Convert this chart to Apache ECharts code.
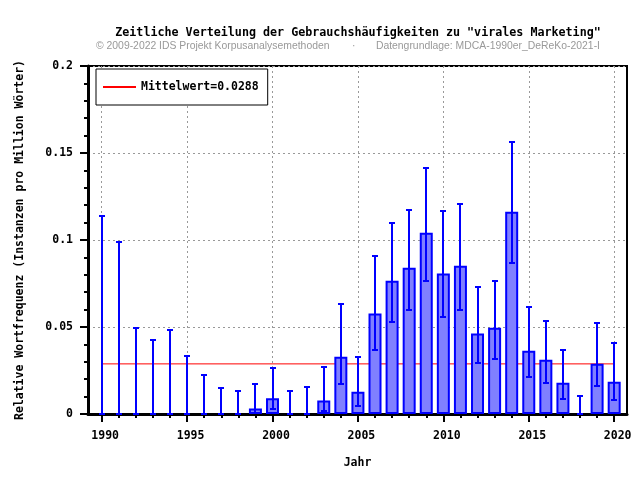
<!DOCTYPE html>
<html>
<head>
<meta charset="utf-8">
<script src="https://cdn.jsdelivr.net/npm/echarts@6/dist/echarts.min.js"></script>
<style>html,body{margin:0;padding:0;background:#fff}#c{width:640px;height:480px}</style>
</head>
<body>
<div id="c"></div>
<script>
const years = [1990,1991,1992,1993,1994,1995,1996,1997,1998,1999,2000,2001,2002,2003,2004,2005,2006,2007,2008,2009,2010,2011,2012,2013,2014,2015,2016,2017,2018,2019,2020];
const values = [0,0,0,0,0,0,0,0,0,0.0031,0.009,0,0,0.0077,0.0329,0.0128,0.0577,0.0766,0.0841,0.1042,0.0807,0.0852,0.0462,0.0496,0.1163,0.0364,0.0312,0.018,0,0.0289,0.0186];
const lower = [0,0,0,0,0,0,0,0,0,0.0004,0.003,0,0,0.0017,0.0172,0.0046,0.037,0.0529,0.0598,0.0764,0.0557,0.0598,0.0295,0.0316,0.087,0.0213,0.018,0.0088,0,0.0163,0.0082];
const upper = [0.114,0.099,0.0496,0.0427,0.0481,0.0335,0.0226,0.0151,0.0134,0.0174,0.0266,0.0132,0.0157,0.0272,0.0634,0.0329,0.091,0.110,0.1174,0.1416,0.1169,0.1209,0.0732,0.0766,0.1565,0.0617,0.0536,0.037,0.0105,0.0525,0.041];
const meanValue = 0.0288;
const xTickLabels = [1990,1995,2000,2005,2010,2015,2020];

const MONO = '"DejaVu Sans Mono", "Liberation Mono", monospace';
const SANS = '"Liberation Sans", Arial, sans-serif';
const chart = echarts.init(document.getElementById('c'), null, {renderer:'canvas'});

const barData = years.map((y,i) => [y, values[i] === 0 ? null : values[i]]);
const errData = years.map((y,i) => [y, lower[i], upper[i]]);

chart.setOption({
  animation: false,
  backgroundColor: '#fff',
  graphic: [
    {type:'text', x:358, y:27, style:{text:'Zeitliche Verteilung der Gebrauchshäufigkeiten zu "virales Marketing"', font:'bold 11.7px ' + MONO, fill:'#000', align:'center'}},
    {type:'text', x:96, y:41, style:{text:'© 2009-2022 IDS Projekt Korpusanalysemethoden', font:'10.4px ' + SANS, fill:'#999'}},
    {type:'text', x:352, y:41, style:{text:'·', font:'10.4px ' + SANS, fill:'#999'}},
    {type:'text', x:600, y:41, style:{text:'Datengrundlage: MDCA-1990er_DeReKo-2021-I', font:'10.4px ' + SANS, fill:'#999', align:'right'}}
  ],
  legend: {
    left: 96, top: 69,
    orient: 'vertical',
    backgroundColor: '#fff',
    borderColor: '#000', borderWidth: 1, borderRadius: 0,
    padding: [12, 9, 12, 7],
    itemWidth: 33, itemHeight: 2,
    itemGap: 0,
    textStyle: {fontFamily: MONO, fontWeight:'bold', fontSize: 11.5, color:'#000'},
    data: [{name:'Mittelwert=' + meanValue, icon:'rect'}]
  },
  grid: {left: 88, right: 13, top: 66, bottom: 66, show: true, borderColor:'#000', borderWidth: 2, backgroundColor:'transparent'},
  xAxis: [{
    type: 'value', min: 1989.2, max: 2020.75,
    name: 'Jahr', nameLocation: 'middle', nameGap: 43,
    nameTextStyle: {fontFamily: MONO, fontWeight:'bold', fontSize: 11.5, color:'#000'},
    axisLine: {show:true, onZero:false, lineStyle:{color:'#000', width:3}},
    axisTick: {show:true, inside:false, length:8, lineStyle:{color:'#000', width:2}, customValues: xTickLabels},
    axisLabel: {show:true, margin:16, padding:[0,0,0,7], fontFamily: MONO, fontWeight:'bold', fontSize: 11.5, color:'#000', customValues: xTickLabels, formatter: v => String(v)},
    splitLine: {show:true, lineStyle:{color:'#999', width:1, type:[2,3]}}
  },{
    type: 'value', min: 1989.2, max: 2020.75, position:'bottom',
    axisLine: {show:false},
    axisTick: {show:true, inside:false, length:4, lineStyle:{color:'#000', width:2}, customValues: years},
    axisLabel: {show:false},
    splitLine: {show:false}
  }],
  yAxis: {
    type: 'value', min: 0, max: 0.2, interval: 0.05,
    name: 'Relative Wortfrequenz (Instanzen pro Million Wörter)', nameLocation:'middle', nameGap: 62, nameRotate: 90,
    nameTextStyle: {fontFamily: MONO, fontWeight:'bold', fontSize: 11.5, color:'#000'},
    axisLine: {show:true, lineStyle:{color:'#000', width:3}},
    axisTick: {show:true, inside:false, length:8, lineStyle:{color:'#000', width:2}},
    minorTick: {show:true, splitNumber:5, length:4, lineStyle:{color:'#000', width:2}},
    axisLabel: {margin:15, fontFamily: MONO, fontWeight:'bold', fontSize: 11.5, color:'#000'},
    splitLine: {show:true, lineStyle:{color:'#999', width:1, type:[2,3]}}
  },
  series: [
    {
      name: 'Mittelwert=' + meanValue, type:'line', z:1,
      data: [[years[0], meanValue], [years[years.length-1], meanValue]],
      symbol:'none', showSymbol:false, lineStyle:{color:'#ff0000', width:1}, itemStyle:{color:'#ff0000'},
      silent:true
    },
    {
      name:'bars', type:'bar', z:2, barWidth:13,
      data: barData,
      itemStyle:{color:'#8080ff', borderColor:'#0000ff', borderWidth:2}
    },
    {
      name:'err', type:'custom', z:3,
      data: errData,
      encode: {x:0, y:[1,2]},
      renderItem: function(params, api) {
        const x = api.value(0), lo = api.value(1), hi = api.value(2);
        const a = api.coord([x, lo]), b = api.coord([x, hi]);
        const cx = Math.round(a[0]);
        const st = {stroke:'#0000ff', lineWidth:2};
        const cw = 3;
        return {type:'group', children:[
          {type:'line', shape:{x1:cx, y1:a[1], x2:cx, y2:b[1]}, style:st},
          {type:'line', shape:{x1:cx-cw, y1:Math.round(b[1]), x2:cx+cw, y2:Math.round(b[1])}, style:st},
          {type:'line', shape:{x1:cx-cw, y1:Math.round(a[1]), x2:cx+cw, y2:Math.round(a[1])}, style:st}
        ]};
      }
    }
  ]
});
</script>
</body>
</html>
